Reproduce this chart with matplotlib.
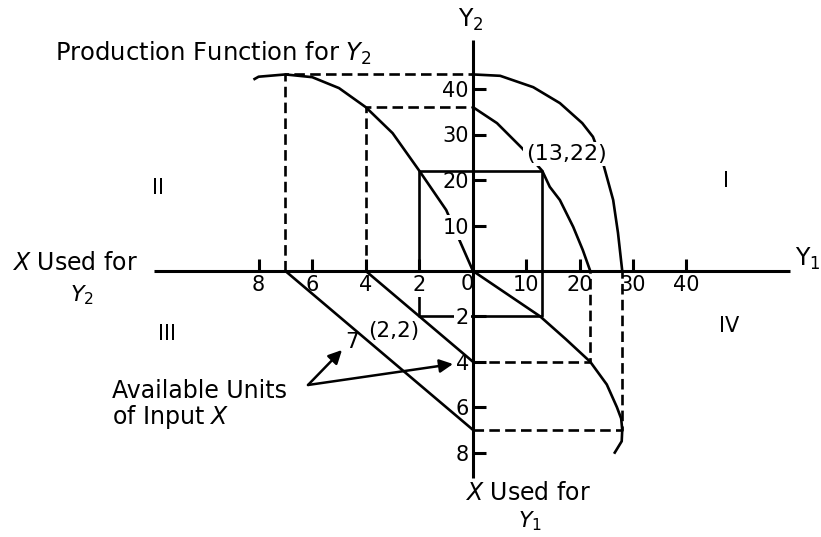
import matplotlib
matplotlib.use("Agg")
import matplotlib.pyplot as plt

# production function for Y2 (quadrant II): units of X used for Y2 -> output Y2
x_for_y2 = [0, 1, 2, 3, 4, 5, 6, 7, 8, 8.15]
y2_output = [0, 13.4, 22, 30.3, 36, 40.2, 42.6, 43.2, 42.7, 42.2]

# production function for Y1 (quadrant IV): units of X used for Y1 -> output Y1
x_for_y1 = [0, 1, 2, 3, 4, 5, 6, 6.5, 7, 7.5, 8]
y1_output = [0, 6.3, 12.6, 17.4, 22, 25.1, 27.0, 27.8, 28, 27.9, 26.6]

# production possibility curves (quadrant I)
outer_y1 = [0, 5.1, 11.3, 16.3, 20.5, 22.5, 24.4, 26.3, 27.2, 28]
outer_y2 = [43.2, 42.9, 40.4, 36.9, 32.5, 29.5, 23.7, 15.6, 8.4, 0]
inner_y1 = [0, 4.5, 9.2, 13, 14.4, 16.3, 18.8, 20.6, 22]
inner_y2 = [36, 32.5, 27.0, 22, 18.5, 15.6, 9.7, 4.6, 0]

# available units of input X (quadrant III lines)
available = [4, 7]
avail_y1 = [22, 28]
avail_y2 = [36, 43.2]

# the allocation (2,2) -> output (13,22)
alloc_x2, alloc_x1 = 2, 2
out_y1, out_y2 = 13, 22

y1_ticks = [10, 20, 30, 40]
y2_ticks = [10, 20, 30, 40]
x2_ticks = [2, 4, 6, 8]
x1_ticks = [2, 4, 6, 8]

W, H = 821, 537
OX, OY = 473, 271          # pixel position of the common origin
S_Y1, S_Y2, S_X2, S_X1 = 5.33, 4.55, -26.8, -22.7   # px per unit, sign = direction

fig = plt.figure(figsize=(W / 100, H / 100), dpi=100)
fig.patch.set_facecolor("white")


def px(x, y):
    return (x / W, 1 - y / H)


def quad_ax(sx, sy):
    ax = fig.add_axes([0, 0, 1, 1])
    oyb = H - OY
    ax.set_xlim(-OX / sx, (W - OX) / sx)
    ax.set_ylim(-oyb / sy, (H - oyb) / sy)
    ax.patch.set_visible(False)
    for s in ax.spines.values():
        s.set_visible(False)
    ax.set_xticks([])
    ax.set_yticks([])
    return ax


def spine(ax, side, end):
    sp = ax.spines[side]
    sp.set_visible(True)
    sp.set_position("zero")
    sp.set_bounds(0, end)
    sp.set_linewidth(2.2)
    sp.set_capstyle("butt")


LW = 1.9
DASH = dict(color="black", lw=LW, dashes=(4, 2))
SOLID = dict(color="black", lw=LW)
WHITE = dict(boxstyle="square,pad=0.1", fc="white", ec="none")
TICKS = dict(direction="in", length=9, width=2.2, labelsize=15, pad=3)

axIII = quad_ax(S_X2, S_X1)
axII = quad_ax(S_X2, S_Y2)
axIV = quad_ax(S_Y1, S_X1)
axI = quad_ax(S_Y1, S_Y2)

# quadrant III: available units of X
for a in available:
    axIII.plot([a, 0], [0, a], **SOLID)
axIII.plot([alloc_x2, alloc_x2, 0], [0, alloc_x1, alloc_x1], **SOLID)

# quadrant II: production function for Y2
axII.plot(x_for_y2, y2_output, **SOLID)
for a, v in zip(available, avail_y2):
    axII.plot([a, a, 0], [0, v, v], **DASH)
axII.plot([alloc_x2, alloc_x2, 0], [0, out_y2, out_y2], **SOLID)
spine(axII, "bottom", 11.9)
axII.set_xticks(x2_ticks)
axII.tick_params(axis="x", **TICKS)
axII.get_xticklabels()[0].set_bbox(WHITE)

# quadrant IV: production function for Y1
axIV.plot(y1_output, x_for_y1, **SOLID)
for a, v in zip(available, avail_y1):
    axIV.plot([0, v, v], [a, a, 0], **DASH)
axIV.plot([0, out_y1, out_y1], [alloc_x1, alloc_x1, 0], **SOLID)
spine(axIV, "left", 9.1)
axIV.set_yticks(x1_ticks)
axIV.tick_params(axis="y", **TICKS)
axIV.get_yticklabels()[0].set_bbox(WHITE)

# quadrant I: production possibilities
axI.plot(outer_y1, outer_y2, **SOLID)
axI.plot(inner_y1, inner_y2, **SOLID)
axI.plot([0, out_y1, out_y1], [out_y2, out_y2, 0], **SOLID)
spine(axI, "bottom", 59.5)
spine(axI, "left", 50.8)
axI.set_xticks(y1_ticks)
axI.set_yticks(y2_ticks)
axI.tick_params(axis="both", **TICKS)
axI.get_yticklabels()[0].set_bbox(WHITE)

# texts
fig.text(*px(55, 61), r"Production Function for $Y_2$", fontsize=17.5, va="baseline")
fig.text(*px(458, 27), r"$\mathrm{Y}_2$", fontsize=17, va="baseline")
fig.text(*px(795, 266), r"$\mathrm{Y}_1$", fontsize=17, va="baseline")
fig.text(*px(12, 270), r"$X$ Used for", fontsize=17, va="baseline")
fig.text(*px(70, 301), r"$Y_2$", fontsize=16, va="baseline")
fig.text(*px(465, 500), r"$X$ Used for", fontsize=17, va="baseline")
fig.text(*px(518, 527), r"$Y_1$", fontsize=16, va="baseline")
fig.text(*px(112, 398), "Available Units", fontsize=17, va="baseline")
fig.text(*px(112, 424), r"of Input $X$", fontsize=17, va="baseline")

for s, (x, y) in {"II": (158, 188), "I": (726, 181), "III": (167, 334), "IV": (729, 326)}.items():
    fig.text(*px(x, y), s, fontsize=15, ha="center", va="center")

fig.text(*px(467, 284), "0", fontsize=15, ha="center", va="center")
fig.text(*px(566, 154), "(13,22)", fontsize=16, ha="center", va="center", bbox=WHITE)
fig.text(*px(394, 331), "(2,2)", fontsize=15.5, ha="center", va="center")
fig.text(*px(352, 342), "7", fontsize=15.5, ha="center", va="center")

arrow = dict(arrowstyle="-|>", color="black", lw=1.8, mutation_scale=20, shrinkA=0, shrinkB=0)
for tip in [(342, 350), (453, 364)]:
    fig.add_artist(matplotlib.text.Annotation(
        "", xy=px(*tip), xycoords="figure fraction",
        xytext=px(308, 385), textcoords="figure fraction", arrowprops=arrow))

fig.savefig("out.png", dpi=100, facecolor="white")
